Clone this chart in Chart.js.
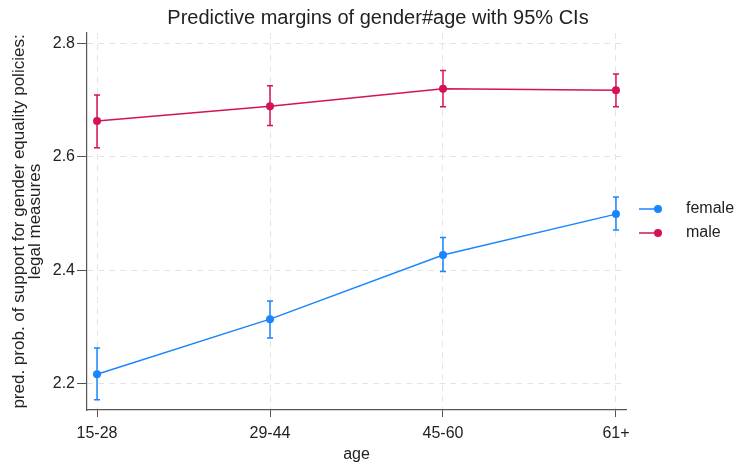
<!DOCTYPE html>
<html>
<head>
<meta charset="utf-8">
<script src="https://cdn.jsdelivr.net/npm/chart.js@4/dist/chart.umd.min.js"></script>
<style>
  html, body { margin: 0; padding: 0; background: #fff; }
  canvas { display: block; }
</style>
</head>
<body>
<canvas id="margins" width="735" height="464"></canvas>
<script>
  // age groups on the x axis
  var categories = ["15-28", "29-44", "45-60", "61+"];
  var yTicks = [2.2, 2.4, 2.6, 2.8];

  // predictive margins with 95% CI bounds
  var femaleMargin = [2.217, 2.314, 2.427, 2.499];
  var femaleLower = [2.172, 2.281, 2.398, 2.471];
  var femaleUpper = [2.263, 2.346, 2.458, 2.529];

  var maleMargin = [2.663, 2.689, 2.720, 2.717];
  var maleLower = [2.616, 2.655, 2.688, 2.688];
  var maleUpper = [2.709, 2.725, 2.752, 2.746];

  var FONT = "'Liberation Sans', Arial, Helvetica, sans-serif";
  var BLUE = "#1a85ff";
  var PINK = "#d41159";

  function toPoints(values) {
    var pts = [];
    for (var i = 0; i < values.length; i++) {
      pts.push({ x: i, y: values[i] });
    }
    return pts;
  }

  // CI whiskers with caps, drawn under the lines and markers
  var ciPlugin = {
    id: "ciBars",
    beforeDatasetsDraw: function(chart) {
      var ctx = chart.ctx;
      var xs = chart.scales.x, ys = chart.scales.y;
      chart.data.datasets.forEach(function(ds) {
        ctx.save();
        ctx.strokeStyle = ds.borderColor;
        ctx.lineWidth = 1.5;
        for (var i = 0; i < ds.lower.length; i++) {
          var px = xs.getPixelForValue(i);
          var lo = ys.getPixelForValue(ds.lower[i]);
          var hi = ys.getPixelForValue(ds.upper[i]);
          ctx.beginPath();
          ctx.moveTo(px, lo); ctx.lineTo(px, hi);
          ctx.moveTo(px - 3, lo); ctx.lineTo(px + 3, lo);
          ctx.moveTo(px - 3, hi); ctx.lineTo(px + 3, hi);
          ctx.stroke();
        }
        ctx.restore();
      });
    }
  };

  // title and right-hand legend
  var decorPlugin = {
    id: "decor",
    afterDraw: function(chart) {
      var ctx = chart.ctx;
      var area = chart.chartArea;
      ctx.save();
      ctx.fillStyle = "#222";
      ctx.font = "20px " + FONT;
      ctx.textAlign = "center";
      ctx.textBaseline = "middle";
      ctx.fillText("Predictive margins of gender#age with 95% CIs", 378, 18);

      var x0 = area.right + 13;
      var y0 = 209;
      chart.data.datasets.forEach(function(ds, i) {
        var y = y0 + i * 24;
        ctx.strokeStyle = ds.borderColor;
        ctx.lineWidth = 1.5;
        ctx.beginPath();
        ctx.moveTo(x0, y); ctx.lineTo(x0 + 19, y);
        ctx.stroke();
        ctx.fillStyle = ds.borderColor;
        ctx.beginPath();
        ctx.arc(x0 + 19, y, 4, 0, Math.PI * 2);
        ctx.fill();
        ctx.fillStyle = "#222";
        ctx.font = "16px " + FONT;
        ctx.textAlign = "left";
        ctx.fillText(ds.label, x0 + 47, y);
      });
      ctx.restore();
    }
  };

  var datasets = [
    { label: "female", data: toPoints(femaleMargin), lower: femaleLower, upper: femaleUpper,
      borderColor: BLUE, backgroundColor: BLUE },
    { label: "male", data: toPoints(maleMargin), lower: maleLower, upper: maleUpper,
      borderColor: PINK, backgroundColor: PINK }
  ];
  datasets.forEach(function(ds) {
    ds.borderWidth = 1.5;
    ds.pointRadius = 4;
    ds.pointHoverRadius = 4;
    ds.pointBorderWidth = 0;
    ds.tension = 0;
  });

  new Chart(document.getElementById("margins"), {
    type: "line",
    data: { datasets: datasets },
    plugins: [ciPlugin, decorPlugin],
    options: {
      responsive: false,
      devicePixelRatio: 1,
      animation: false,
      layout: { padding: { top: 33, right: 109, left: 0, bottom: 0 } },
      plugins: { legend: { display: false }, title: { display: false }, tooltip: { enabled: false } },
      scales: {
        x: {
          type: "linear",
          min: -0.058,
          max: 3.058,
          afterBuildTicks: function(scale) {
            scale.ticks = categories.map(function(c, i) { return { value: i }; });
          },
          afterFit: function(scale) { scale.height = 54; },
          ticks: {
            autoSkip: false,
            maxRotation: 0,
            padding: 7,
            color: "#222",
            font: { family: FONT, size: 16 },
            callback: function(v) { return categories[v]; }
          },
          grid: {
            color: "#e4e4e4",
            tickColor: "#555",
            tickBorderDash: [],
            tickLength: 7
          },
          border: { display: true, color: "#555", width: 1.2, dash: [6, 5] },
          title: {
            display: true,
            text: "age",
            color: "#222",
            font: { family: FONT, size: 16 },
            padding: { top: 0, bottom: 0 }
          }
        },
        y: {
          min: 2.154,
          max: 2.818,
          afterBuildTicks: function(scale) {
            scale.ticks = yTicks.map(function(v) { return { value: v }; });
          },
          afterFit: function(scale) { scale.width = 87; },
          ticks: {
            padding: 2,
            color: "#222",
            font: { family: FONT, size: 16 },
            callback: function(v) { return v.toFixed(1); }
          },
          grid: {
            color: "#e4e4e4",
            tickColor: "#555",
            tickBorderDash: [],
            tickLength: 10
          },
          border: { display: true, color: "#555", width: 1.2, dash: [6, 5] },
          title: {
            display: true,
            text: ["pred. prob. of support for gender equality policies:", "legal measures"],
            color: "#222",
            font: { family: FONT, size: 17, lineHeight: 0.9 },
            padding: { top: 12, bottom: 0 }
          }
        }
      }
    }
  });
</script>
</body>
</html>
